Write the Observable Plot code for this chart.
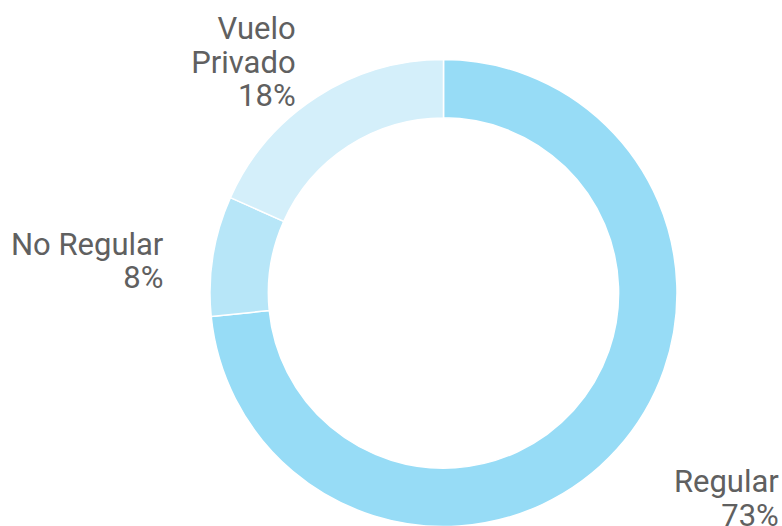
<!DOCTYPE html>
<html><head><meta charset="utf-8">
<script src="https://cdn.jsdelivr.net/npm/d3@7"></script>
<script src="https://cdn.jsdelivr.net/npm/@observablehq/plot@0.6"></script>
<style>html,body{margin:0;padding:0;background:#fff;overflow:hidden}</style>
</head><body><div id="chart"></div>
<script>
const categories = ["Regular", "No Regular", "Vuelo Privado"];
const shares = [73.4, 8.3, 18.3];
const pctLabels = ["73%", "8%", "18%"];

const W = 782, H = 526;
const R = 233.5, cx = 443.5, cy = 293;

const arcs = d3.pie().sort(null).value(d => d.share)(
  categories.map((c, i) => ({category: c, share: shares[i], label: pctLabels[i]}))
);
const slices = arcs.map(a => ({
  ...a.data, startAngle: a.startAngle, endAngle: a.endAngle,
  mid: (a.startAngle + a.endAngle) / 2
}));

function donut(index, scales) {
  const x0 = scales.x(0), y0 = scales.y(0);
  const r = scales.x(1) - x0;
  const arc = d3.arc().innerRadius(r * 0.75).outerRadius(r);
  const g = d3.create("svg:g").attr("transform", `translate(${x0},${y0})`);
  g.selectAll("path").data(slices).join("path")
    .attr("d", arc)
    .attr("fill", d => scales.color(d.category))
    .attr("stroke", "#fff")
    .attr("stroke-width", 1.5)
    .attr("stroke-linejoin", "round");
  return g.node();
}

const lab = d => (d.category === "Vuelo Privado" ? "Vuelo\nPrivado" : d.category) + "\n" + d.label;
const textOpts = (cat, dx, dy) => ({
  filter: d => d.category === cat,
  x: d => Math.sin(d.mid) * 1.2,
  y: d => Math.cos(d.mid) * 1.2,
  text: lab,
  textAnchor: "end",
  lineAnchor: "top",
  lineHeight: 1.08,
  fontSize: 31,
  fill: "#606060",
  dx, dy
});

const chart = Plot.plot({
  width: W, height: H, margin: 0,
  style: {fontFamily: "Roboto, sans-serif", background: "#fff"},
  x: {domain: [-cx / R, (W - cx) / R], axis: null},
  y: {domain: [-(H - cy) / R, cy / R], axis: null},
  color: {domain: categories, range: ["#97dcf6", "#b7e6f8", "#d4effa"]},
  marks: [
    donut,
    Plot.text(slices, textOpts("Vuelo Privado", 4, -43)),
    Plot.text(slices, textOpts("No Regular", -4, -18)),
    Plot.text(slices, textOpts("Regular", 127, -13))
  ]
});
document.getElementById("chart").appendChild(chart);
</script>
</body></html>
